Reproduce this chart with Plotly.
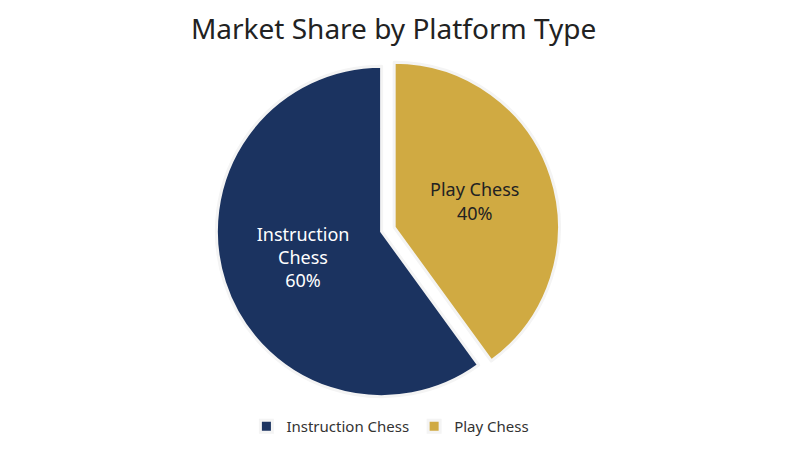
import plotly.graph_objects as go

platforms = ["Instruction Chess", "Play Chess"]
display_text = ["Instruction<br>Chess", "Play Chess"]
shares = [60, 40]
colors = ["#1b3360", "#d0aa42"]
text_colors = ["#ffffff", "#222222"]

fig = go.Figure(go.Pie(
    labels=platforms,
    values=shares,
    text=display_text,
    texttemplate="%{text}<br>%{percent:.0%}",
    textposition="inside",
    insidetextorientation="horizontal",
    insidetextfont=dict(color=text_colors, size=18),
    sort=False,
    direction="counterclockwise",
    rotation=144,
    pull=[0, 0.08],
    marker=dict(colors=colors, line=dict(color="#f4f4f4", width=3)),
    domain=dict(x=[0.167, 0.767], y=[0.107, 0.9]),
    hoverinfo="label+percent",
))

fig.update_layout(
    width=800,
    height=450,
    margin=dict(l=0, r=0, t=0, b=0),
    paper_bgcolor="#ffffff",
    font=dict(family="Noto Sans, Lato, sans-serif", color="#333333"),
    title=dict(
        text="Market Share by Platform Type",
        x=0.482, xanchor="center",
        y=0.952, yanchor="middle",
        font=dict(size=28, color="#222222"),
    ),
    legend=dict(
        orientation="h",
        x=0.478, xanchor="center",
        y=0.07, yanchor="middle",
        font=dict(size=15, color="#333333"),
    ),
)

fig.write_html("out.html")
